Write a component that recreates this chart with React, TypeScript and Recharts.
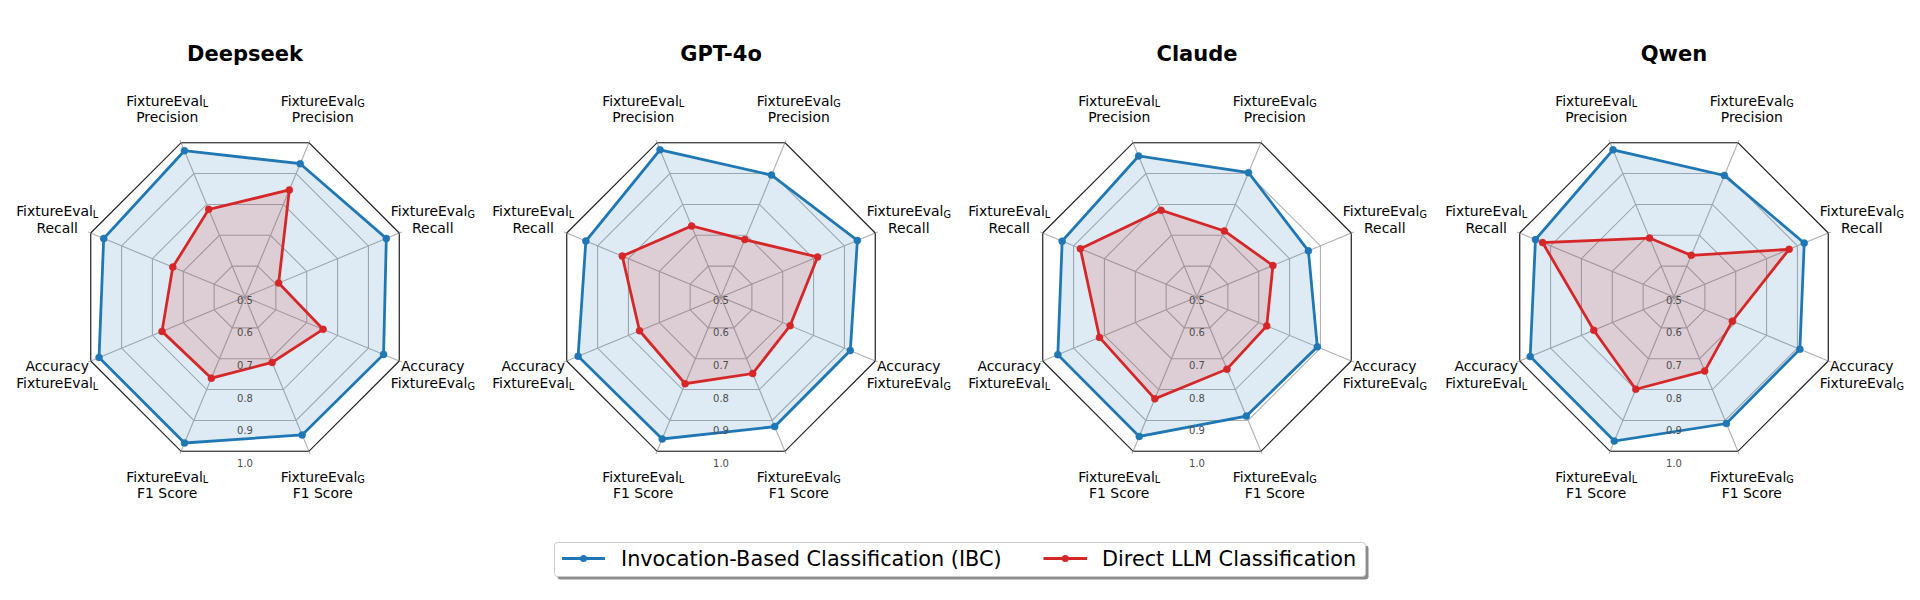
import React from 'react';
import { RadarChart, Radar, PolarGrid, PolarAngleAxis, PolarRadiusAxis } from 'recharts';

// ---------- data ----------
const modelNames = ['Deepseek', 'GPT-4o', 'Claude', 'Qwen'];
const seriesNames = ['Invocation-Based Classification (IBC)', 'Direct LLM Classification'];

// metric order (clockwise from upper right)
const metricKeys = ['gPrec', 'gRec', 'gAcc', 'gF1', 'lF1', 'lAcc', 'lRec', 'lPrec'];
const metricTop = ['FixtureEval', 'FixtureEval', 'Accuracy', 'FixtureEval', 'FixtureEval', 'Accuracy', 'FixtureEval', 'FixtureEval'];
const metricTopSub = ['G', 'G', '', 'G', 'L', '', 'L', 'L'];
const metricBottom = ['Precision', 'Recall', 'FixtureEval', 'F1 Score', 'F1 Score', 'FixtureEval', 'Recall', 'Precision'];
const metricBottomSub = ['', '', 'G', '', '', 'L', '', ''];

const radiusTicks = [0.5, 0.6, 0.7, 0.8, 0.9, 1.0];

const ibcDeepseek = [0.932, 0.958, 0.949, 0.947, 0.973, 0.973, 0.958, 0.974];
const directDeepseek = [0.847, 0.609, 0.753, 0.712, 0.763, 0.769, 0.734, 0.784];
const ibcGpt4o = [0.895, 0.942, 0.919, 0.92, 0.96, 0.963, 0.938, 0.977];
const directGpt4o = [0.686, 0.813, 0.724, 0.748, 0.781, 0.764, 0.82, 0.73];
const ibcClaude = [0.903, 0.861, 0.89, 0.886, 0.952, 0.951, 0.937, 0.957];
const directClaude = [0.714, 0.746, 0.726, 0.734, 0.83, 0.816, 0.878, 0.781];
const ibcQwen = [0.894, 0.922, 0.908, 0.91, 0.967, 0.966, 0.949, 0.977];
const directQwen = [0.635, 0.873, 0.689, 0.74, 0.799, 0.76, 0.926, 0.691];

const ibcSeries = [ibcDeepseek, ibcGpt4o, ibcClaude, ibcQwen];
const directSeries = [directDeepseek, directGpt4o, directClaude, directQwen];

// ---------- layout ----------
const BLUE = '#1f77b4';
const RED = '#d62728';
const FONT = '"DejaVu Sans", sans-serif';
const CHART_W = 480;
const CHART_H = 600;
const CX = 240;
const CY = 297;
const R = 167;
const LABEL_R = 203.3;
const centersX = [245, 721, 1197, 1674];

const AngleTick = (props: any) => {
  const { payload } = props;
  const i = metricKeys.indexOf(payload.value);
  let ux: number;
  let uy: number;
  if (typeof payload.coordinate === 'number') {
    const a = (payload.coordinate * Math.PI) / 180;
    ux = Math.cos(-a);
    uy = Math.sin(-a);
  } else {
    const dx = props.x - CX;
    const dy = props.y - CY;
    const l = Math.hypot(dx, dy) || 1;
    ux = dx / l;
    uy = dy / l;
  }
  const x = CX + ux * LABEL_R;
  const y = CY + uy * LABEL_R;
  return (
    <g>
      <text x={x} y={y - 3.3} textAnchor="middle" fontSize={13.9} fontFamily={FONT} fill="#000">
        {metricTop[i]}
        {metricTopSub[i] ? (
          <tspan fontSize={9.7} dy={1.6}>
            {metricTopSub[i]}
          </tspan>
        ) : null}
      </text>
      <text x={x} y={y + 13.3} textAnchor="middle" fontSize={13.9} fontFamily={FONT} fill="#000">
        {metricBottom[i]}
        {metricBottomSub[i] ? (
          <tspan fontSize={9.7} dy={1.6}>
            {metricBottomSub[i]}
          </tspan>
        ) : null}
      </text>
    </g>
  );
};

const RadiusTick = (props: any) => {
  const { x, y, payload, index } = props;
  const shift = 3 - (typeof index === 'number' ? index : 0) * 0.7;
  return (
    <text x={x} y={y + shift} textAnchor="middle" dominantBaseline="central" fontSize={10} fontFamily={FONT} fill="#4d4d4d">
      {Number(payload.value).toFixed(1)}
    </text>
  );
};

const ModelRadar = ({ idx }: { idx: number }) => {
  const data = metricKeys.map((k, i) => ({
    metric: k,
    ibc: ibcSeries[idx][i],
    direct: directSeries[idx][i],
  }));
  return (
    <div style={{ position: 'absolute', left: centersX[idx] - CX, top: 0, width: CHART_W, height: CHART_H }}>
      <RadarChart
        width={CHART_W}
        height={CHART_H}
        data={data}
        cx={CX}
        cy={CY}
        outerRadius={R}
        startAngle={67.5}
        endAngle={-292.5}
        margin={{ top: 0, right: 0, bottom: 0, left: 0 }}
        style={{ overflow: 'visible' }}
      >
        <PolarGrid gridType="polygon" stroke="#b0b0b0" strokeWidth={1.1} />
        <PolarAngleAxis
          dataKey="metric"
          axisLineType="polygon"
          axisLine={{ stroke: '#222', strokeWidth: 1.1 }}
          tickLine={{ stroke: '#b0b0b0' }}
          tickSize={3}
          tick={(p: any) => <AngleTick {...p} />}
        />
        <PolarRadiusAxis
          type="number"
          angle={-90}
          domain={[0.5, 1]}
          ticks={radiusTicks}
          tickCount={6}
          axisLine={false}
          tickLine={false}
          tick={(p: any) => <RadiusTick {...p} />}
        />
        <Radar
          name={seriesNames[0]}
          dataKey="ibc"
          stroke={BLUE}
          strokeWidth={2.78}
          fill={BLUE}
          fillOpacity={0.15}
          dot={{ r: 3.5, fill: BLUE, stroke: BLUE, strokeWidth: 0.5, fillOpacity: 1 }}
          isAnimationActive={false}
        />
        <Radar
          name={seriesNames[1]}
          dataKey="direct"
          stroke={RED}
          strokeWidth={2.78}
          fill={RED}
          fillOpacity={0.15}
          dot={{ r: 3.5, fill: RED, stroke: RED, strokeWidth: 0.5, fillOpacity: 1 }}
          isAnimationActive={false}
        />
      </RadarChart>
    </div>
  );
};

const Overlay = () => (
  <svg width={1920} height={600} style={{ position: 'absolute', left: 0, top: 0 }}>
    {modelNames.map((m, i) => (
      <text key={m} x={centersX[i]} y={61} textAnchor="middle" fontSize={21} fontWeight="bold" fontFamily={FONT} fill="#000">
        {m}
      </text>
    ))}
    {/* legend */}
    <rect x={557.5} y={545.5} width={811} height={34} rx={3} fill="#8c8c8c" />
    <rect x={554.5} y={542.5} width={811} height={34} rx={3} fill="#fff" stroke="#cccccc" strokeWidth={1} />
    <line x1={562} y1={558.5} x2={605} y2={558.5} stroke={BLUE} strokeWidth={2.78} />
    <circle cx={583.5} cy={558.5} r={3.5} fill={BLUE} />
    <text x={621} y={565.5} fontSize={20.8} fontFamily={FONT} fill="#000">
      {seriesNames[0]}
    </text>
    <line x1={1043.5} y1={558.5} x2={1087} y2={558.5} stroke={RED} strokeWidth={2.78} />
    <circle cx={1065.3} cy={558.5} r={3.5} fill={RED} />
    <text x={1102} y={565.5} fontSize={20.8} fontFamily={FONT} fill="#000">
      {seriesNames[1]}
    </text>
  </svg>
);

export default function App() {
  return (
    <div style={{ position: 'absolute', left: 0, top: 0, width: 1920, height: 600, background: '#fff', overflow: 'hidden' }}>
      <Overlay />
      {modelNames.map((m, i) => (
        <ModelRadar key={m} idx={i} />
      ))}
    </div>
  );
}
